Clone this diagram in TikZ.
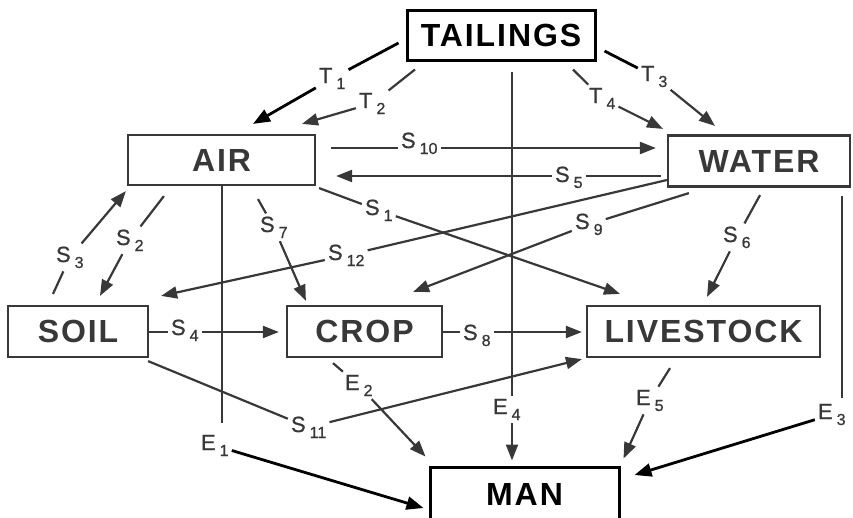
\documentclass[tikz,border=0pt]{standalone}
\usepackage{fontspec}
\setmainfont{Liberation Sans}
\newfontfamily\boxfamily[LetterSpace=6]{Liberation Sans}
\newfontfamily\labfamily[FakeBold=0.8]{Liberation Sans}
\usetikzlibrary{arrows.meta}
\definecolor{ink}{gray}{0.22}
% flow label: letter with a lowered index
\newcommand\lbl[2]{#1\kern4pt\raisebox{-6pt}{\fontsize{16}{16}\selectfont #2}}

\begin{document}
\begin{tikzpicture}[x=1pt,y=-1pt,
  box/.style={draw=ink, line width=2.2pt, inner sep=0pt, text=ink,
    font=\boxfamily\bfseries\fontsize{32}{32}\selectfont},
  keybox/.style={box, draw=black, line width=3pt, text=black},
  lab/.style={anchor=text, inner sep=3pt, text=ink, font=\labfamily\fontsize{22}{22}\selectfont},
  ln/.style={draw=ink, line width=2.2pt},
  arr/.style={ln, -{Triangle[length=16pt,width=12pt]}},
  heavy/.style={draw=black, line width=2.8pt},
  harr/.style={heavy, -{Triangle[length=17pt,width=13pt]}}]

\useasboundingbox (0,0) rectangle (853,517);

% compartments
\node[keybox, minimum width=188pt, minimum height=50pt] (TAIL)  at (501,35)      {TAILINGS};
\node[box,    minimum width=187pt, minimum height=50pt] (AIR)   at (221.5,160)   {AIR};
\node[box,    minimum width=182pt, minimum height=51pt] (WATER) at (759,161)     {WATER};
\node[box,    minimum width=140pt, minimum height=51pt] (SOIL)  at (78,331.5)    {SOIL};
\node[box,    minimum width=155pt, minimum height=51pt] (CROP)  at (364.5,331.5) {CROP};
\node[box,    minimum width=233pt, minimum height=51pt] (LIVE)  at (703.5,331.5) {LIVESTOCK};
\node[keybox, minimum width=189pt, minimum height=54pt] (MAN)   at (524.5,494)   {MAN};

% pathway labels
\node[lab] (T1)  at (319,83)  {\lbl{T}{1}};
\node[lab] (T2)  at (359,108) {\lbl{T}{2}};
\node[lab] (T3)  at (641,81)  {\lbl{T}{3}};
\node[lab] (T4)  at (589,103) {\lbl{T}{4}};
\node[lab] (S1)  at (365,215) {\lbl{S}{1}};
\node[lab] (S2)  at (116,245) {\lbl{S}{2}};
\node[lab] (S3)  at (56,262)  {\lbl{S}{3}};
\node[lab] (S4)  at (171,335) {\lbl{S}{4}};
\node[lab] (S5)  at (555,182) {\lbl{S}{5}};
\node[lab] (S6)  at (723,242) {\lbl{S}{6}};
\node[lab] (S7)  at (260,232) {\lbl{S}{7}};
\node[lab] (S8)  at (463,340) {\lbl{S}{8}};
\node[lab] (S9)  at (575,229) {\lbl{S}{9}};
\node[lab] (S10) at (401,148) {\lbl{S}{10}};
\node[lab] (S11) at (291,432) {\lbl{S}{11}};
\node[lab] (S12) at (328,260) {\lbl{S}{12}};
\node[lab] (E1)  at (201,450) {\lbl{E}{1}};
\node[lab] (E2)  at (345,390) {\lbl{E}{2}};
\node[lab] (E3)  at (818,419) {\lbl{E}{3}};
\node[lab] (E4)  at (493,414) {\lbl{E}{4}};
\node[lab] (E5)  at (636,405) {\lbl{E}{5}};

% tailings releases
\draw[heavy] ([shift={(-7,8)}]TAIL.west) -- (T1);
\draw[harr]  (T1) -- ([shift={(31.5,-10)}]AIR.north);
\draw[ln]    ([shift={(-86,8)}]TAIL.south) -- (T2);
\draw[arr]   (T2) -- ([shift={(80.5,-10)}]AIR.north);
\draw[heavy] ([shift={(8,16)}]TAIL.east) -- (T3);
\draw[arr]   (T3) -- ([shift={(-44,-8.5)}]WATER.north);
\draw[ln]    ([shift={(72,8)}]TAIL.south) -- (T4);
\draw[arr]   (T4) -- ([shift={(-96,-5.5)}]WATER.north);

% air <-> water
\draw[ln]  ([shift={(15,-12)}]AIR.east) coordinate (a10) -- (S10.west |- a10);
\draw[arr] (S10.east |- a10) -- ([shift={(-11,-13)}]WATER.west);
\draw[ln]  ([shift={(-6,15)}]WATER.west) coordinate (a5) -- (S5.east |- a5);
\draw[arr] (S5.west |- a5) -- ([shift={(20,16)}]AIR.east);

% air and water to soil, crop, livestock
\draw[ln]  ([shift={(3,2)}]AIR.south east) -- (S1);
\draw[arr] (S1) -- ([shift={(-83.5,-11)}]LIVE.north);
\draw[ln]  ([shift={(0,19)}]WATER.west) -- (S12);
\draw[arr] (S12) -- ([shift={(12,-9)}]SOIL.north east);
\draw[ln]  ([shift={(22,5.5)}]WATER.south west) -- (S9);
\draw[arr] (S9) -- ([shift={(-30,-13)}]CROP.north east);
\draw[ln]  ([shift={(1,7.5)}]WATER.south) -- (S6);
\draw[arr] (S6) -- ([shift={(3.5,-8)}]LIVE.north);
\draw[ln]  ([shift={(36.5,13)}]AIR.south) -- (S7);
\draw[arr] (S7) -- ([shift={(20,-4)}]CROP.north west);
\draw[ln]  ([shift={(37,10)}]AIR.south west) -- (S2);
\draw[arr] (S2) -- ([shift={(22,-9)}]SOIL.north);
\draw[ln]  ([shift={(-25,-11)}]SOIL.north) -- (S3);
\draw[arr] (S3) -- ([shift={(-1,5)}]AIR.south west);

% soil -> crop -> livestock
\draw[ln]  ([shift={(0,0.5)}]SOIL.east) coordinate (a4) -- (S4.west |- a4);
\draw[arr] (S4.east |- a4) -- ([shift={(-7,0.5)}]CROP.west);
\draw[ln]  ([shift={(0,0.5)}]CROP.east) coordinate (a8) -- (S8.west |- a8);
\draw[arr] (S8.east |- a8) -- ([shift={(-4,0.5)}]LIVE.west);
\draw[ln]  ([shift={(-1,3)}]SOIL.south east) -- (S11);
\draw[arr] (S11) -- ([shift={(-4,1)}]LIVE.south west);

% exposure of man
\draw[ln]   ([shift={(0.5,0)}]AIR.south) -- ++(0,237);
\draw[harr] (E1) -- ([shift={(-5,14)}]MAN.west);
\draw[ln]   ([shift={(-31.5,5)}]CROP.south) -- (E2);
\draw[arr]  (E2) -- ([shift={(-3,-9)}]MAN.north west);
\draw[ln]   ([shift={(-9,8)}]WATER.south east) -- ++(0,202);
\draw[harr] (E3) -- ([shift={(14,-19)}]MAN.east);
\draw[ln]   ([shift={(11,10)}]TAIL.south) coordinate (t0) -- (t0 |- E4.north);
\draw[arr]  (t0 |- E4.south) -- ([shift={(-12.5,-5)}]MAN.north);
\draw[ln]   ([shift={(-33.5,10)}]LIVE.south) -- (E5);
\draw[arr]  (E5) -- ([shift={(3,-7)}]MAN.north east);

\end{tikzpicture}
\end{document}
